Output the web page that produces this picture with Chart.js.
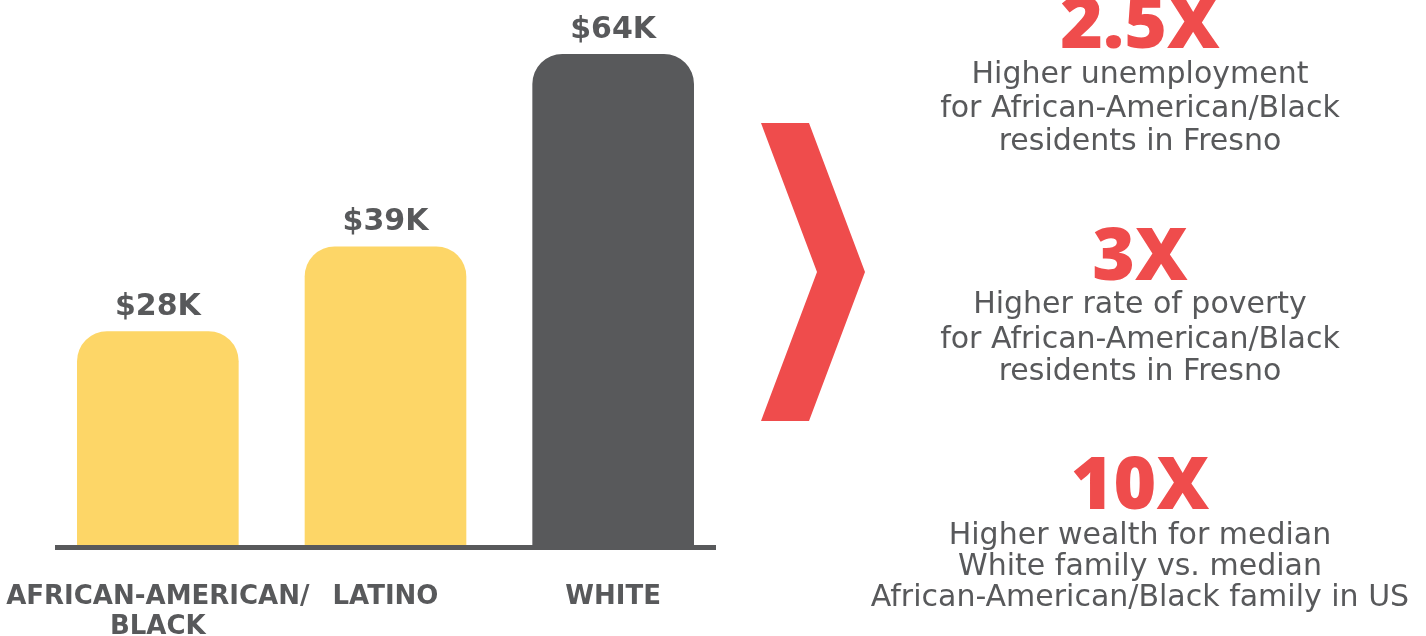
<!DOCTYPE html>
<html>
<head>
<meta charset="utf-8">
<script src="https://cdn.jsdelivr.net/npm/chart.js@4.4.1/dist/chart.umd.min.js"></script>
<style>
  html, body { margin: 0; padding: 0; background: #fff; overflow: hidden; }
  body { width: 1426px; height: 636px; position: relative; font-family: "DejaVu Sans", sans-serif; color: #58595b; }
  #chartBox { position: absolute; left: 0; top: 0; width: 740px; height: 636px; }
  #arrow { position: absolute; left: 0; top: 0; }
  .stat { position: absolute; left: 840px; width: 600px; text-align: center; white-space: nowrap; }
  .big { font-family: "Open Sans", sans-serif; font-weight: 800; font-size: 73px; line-height: 73px; color: #ef4c4c; }
  .txt { font-size: 30px; line-height: 30px; }
</style>
</head>
<body>
<div id="chartBox"><canvas id="myChart"></canvas></div>

<svg id="arrow" width="1426" height="636">
  <polygon points="761,123 809,123 865,272 809,421 761,421 817,272" fill="#ef4c4c"/>
</svg>

<div class="stat big" style="top:-17px">2.5X</div>
<div class="stat txt" style="top:58px">Higher unemployment</div>
<div class="stat txt" style="top:92px">for African-American/Black</div>
<div class="stat txt" style="top:125px">residents in Fresno</div>

<div class="stat big" style="top:215px">3X</div>
<div class="stat txt" style="top:288px">Higher rate of poverty</div>
<div class="stat txt" style="top:323px">for African-American/Black</div>
<div class="stat txt" style="top:355px">residents in Fresno</div>

<div class="stat big" style="top:444px">10X</div>
<div class="stat txt" style="top:519px">Higher wealth for median</div>
<div class="stat txt" style="top:550px">White family vs. median</div>
<div class="stat txt" style="top:581px">African-American/Black family in US</div>

<script>
const categories = [['AFRICAN-AMERICAN/', 'BLACK'], 'LATINO', 'WHITE'];
const incomes = [28, 39, 64]; // median household income, $K
const yMax = 71;

const yellow = '#fdd667';
const grey = '#58595b';

// baseline + value labels on top of bars
const decor = {
  id: 'decor',
  afterDatasetsDraw(chart) {
    const ctx = chart.ctx;
    const base = chart.scales.y.getPixelForValue(0);
    ctx.save();
    ctx.strokeStyle = grey;
    ctx.lineWidth = 5;
    ctx.beginPath();
    ctx.moveTo(55, base + 0.5);
    ctx.lineTo(716, base + 0.5);
    ctx.stroke();

    ctx.fillStyle = grey;
    ctx.font = 'bold 30px "DejaVu Sans"';
    ctx.textAlign = 'center';
    ctx.textBaseline = 'middle';
    chart.getDatasetMeta(0).data.forEach((bar, i) => {
      ctx.fillText('$' + incomes[i] + 'K', bar.x, bar.y - 24);
    });
    ctx.restore();
  }
};

const ctx = document.getElementById('myChart');
const myChart = new Chart(ctx, {
  type: 'bar',
  data: {
    labels: categories,
    datasets: [{
      data: incomes,
      backgroundColor: [yellow, yellow, grey],
      borderRadius: { topLeft: 30, topRight: 30 },
      borderSkipped: 'start',
      barPercentage: 0.71,
      categoryPercentage: 1
    }]
  },
  options: {
    responsive: true,
    maintainAspectRatio: false,
    animation: false,
    layout: { padding: { left: 44, right: 13, top: 0, bottom: 0 } },
    scales: {
      x: {
        grid: { display: false, drawTicks: false },
        border: { display: false },
        ticks: {
          color: grey,
          padding: 35,
          maxRotation: 0,
          minRotation: 0,
          autoSkip: false,
          font: { family: 'DejaVu Sans', weight: 'bold', size: 26, lineHeight: 1.15 }
        },
        afterFit(scale) {
          scale.height = 89;
          scale.paddingLeft = 0;
          scale.paddingRight = 0;
        }
      },
      y: {
        display: false,
        min: 0,
        max: yMax
      }
    },
    plugins: {
      legend: { display: false },
      tooltip: { enabled: false }
    }
  },
  plugins: [decor]
});
</script>
</body>
</html>
